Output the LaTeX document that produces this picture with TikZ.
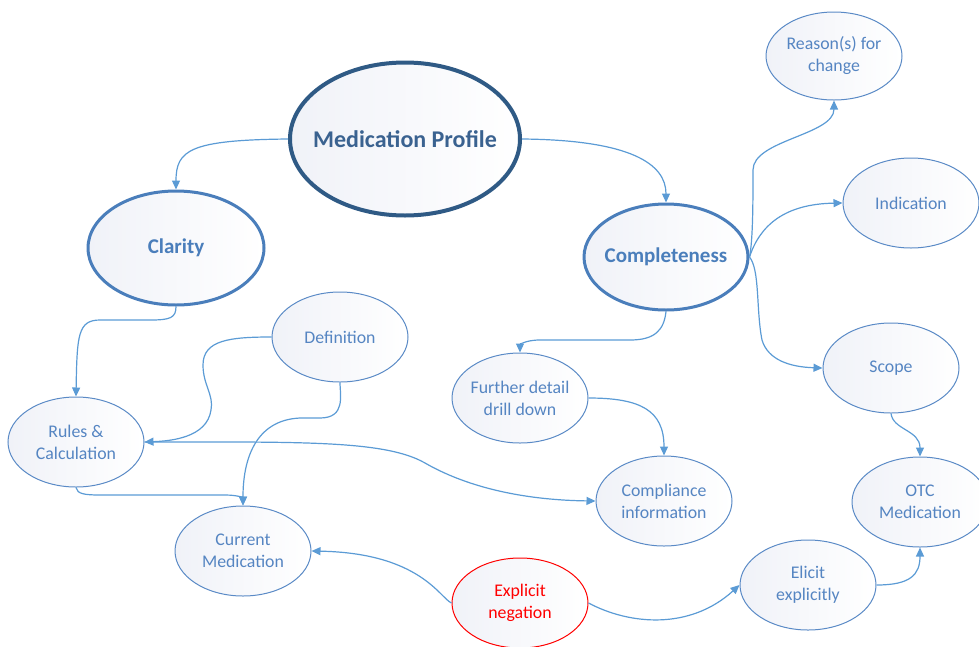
\documentclass[tikz,border=0pt]{standalone}
\usepackage{fontspec}
\setmainfont{Carlito}
\usetikzlibrary{arrows.meta,shapes.geometric}
\definecolor{edgeblue}{HTML}{5B9BD5}
\definecolor{rimblue}{HTML}{5A8AC6}
\definecolor{txtblue}{HTML}{5585C2}
\definecolor{darkrim}{HTML}{2F5A85}
\definecolor{darktxt}{HTML}{3A6290}
\definecolor{midrim}{HTML}{4A7EBB}
\definecolor{fillgray}{HTML}{F0F2F8}
\definecolor{negred}{HTML}{FF0000}
\tikzset{
  lbl/.style={align=center, text=txtblue, font=\fontsize{17.8}{22}\selectfont, inner sep=0pt},
  mainlbl/.style={lbl, text=midrim, font=\fontsize{21}{25}\selectfont\bfseries},
  toplbl/.style={lbl, text=darktxt, font=\fontsize{24}{28}\selectfont\bfseries},
  redlbl/.style={lbl, text=negred},
  bubble/.style={ellipse, draw=rimblue, line width=1pt, left color=fillgray, right color=white,
    inner sep=0pt, minimum width=136pt, minimum height=90pt},
  mainbubble/.style={bubble, draw=midrim, line width=3pt},
  topbubble/.style={bubble, draw=darkrim, line width=4pt, minimum width=230pt, minimum height=153pt},
  redbubble/.style={bubble, draw=negred},
  link/.style={draw=edgeblue, line width=1.2pt, -{Triangle[length=9pt,width=8pt]}},
}
\begin{document}
\begin{tikzpicture}[x=1pt,y=-1pt]
\useasboundingbox (0,0) rectangle (979,646);
\node[topbubble, label={[toplbl]center:Medication Profile}] (mp) at (405,139) {};
\node[mainbubble, minimum width=176pt, minimum height=114pt, label={[mainlbl]center:Clarity}] (cl) at (176,248) {};
\node[mainbubble, minimum width=164pt, minimum height=106pt, label={[mainlbl]center:Completeness}] (co) at (666,257) {};
\node[bubble, minimum height=88pt, label={[lbl]center:{Reason(s) for\\change}}] (rs) at (834,56) {};
\node[bubble, label={[lbl]center:Indication}] (ind) at (911,203) {};
\node[bubble, label={[lbl]center:Scope}] (sc) at (891,368) {};
\node[bubble, label={[lbl]center:{OTC\\Medication}}] (otc) at (920,502) {};
\node[bubble, label={[lbl]center:{Elicit\\explicitly}}] (el) at (808,585) {};
\node[redbubble, label={[redlbl]center:{Explicit\\negation}}] (en) at (520,603) {};
\node[bubble, label={[lbl]center:{Current\\Medication}}] (cm) at (243,551) {};
\node[bubble, label={[lbl]center:{Rules \&\\Calculation}}] (rc) at (76,442) {};
\node[bubble, label={[lbl]center:Definition}] (df) at (340,337) {};
\node[bubble, label={[lbl]center:{Further detail\\drill down}}] (fd) at (520,398) {};
\node[bubble, label={[lbl]center:{Compliance\\information}}] (ci) at (664,501) {};

\path[link] (mp.west) .. controls (190,140) and (176,150) .. (cl.north);
\path[link] (mp.east) .. controls (631,140) and (666,164) .. (co.north);
\path[link] (cl.south) .. controls (176,318) and (170,320) .. (150,320) -- (100,320) .. controls (78,320) and (77,335) .. (rc.north);
\path[link] (df.west) .. controls (230,337) and (203,340) .. (203,365) .. controls (203,385) and (214,395) .. (211,410) .. controls (207,438) and (170,441) .. (rc.east);
\path[link] (df.south) .. controls (340,395) and (346,418) .. (320,418) -- (300,418) .. controls (255,420) and (243,460) .. (cm.north);
\path[link] (rc.south) .. controls (77,494) and (85,495) .. (100,495) -- (225,495) .. controls (238,495) and (243,498) .. (cm.north);
\path[link] (rc.east) .. controls (300,442) and (385,440) .. (425,463) .. controls (465,486) and (520,500) .. (ci.west);
\path[link] (co.south) .. controls (664,330) and (655,340) .. (630,340) -- (540,340) .. controls (525,340) and (520,345) .. (fd.north);
\path[link] (fd.east) .. controls (640,398) and (664,410) .. (ci.north);
\path[link] (co.east) .. controls (753,240) and (753,200) .. (753,170) .. controls (753,140) and (834,135) .. (rs.south);
\path[link] (co.east) .. controls (760,225) and (785,204) .. (ind.west);
\path[link] (co.east) .. controls (760,270) and (756,310) .. (762,340) .. controls (768,360) and (790,367) .. (sc.west);
\path[link] (sc.south) .. controls (893,430) and (920,430) .. (otc.north);
\path[link] (el.east) .. controls (910,585) and (920,575) .. (otc.south);
\path[link] (en.east) .. controls (630,625) and (690,630) .. (el.west);
\path[link] (en.west) .. controls (440,598) and (420,553) .. (cm.east);
\end{tikzpicture}
\end{document}
